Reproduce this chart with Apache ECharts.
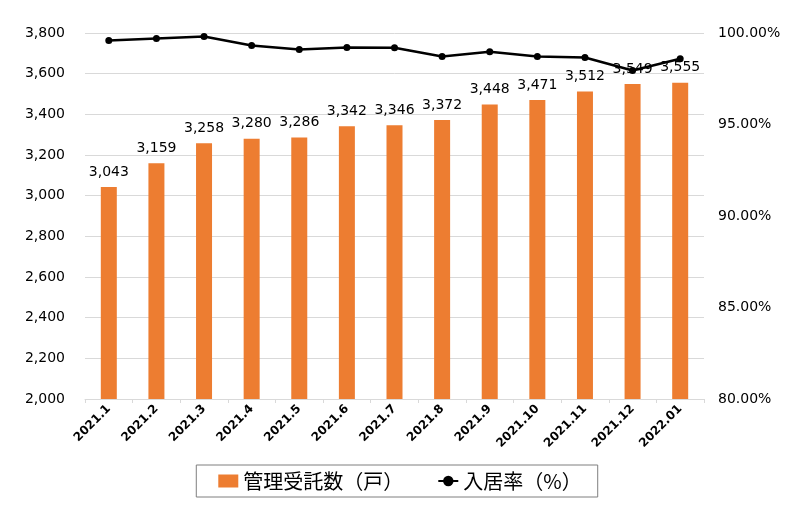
<!DOCTYPE html>
<html>
<head>
<meta charset="utf-8">
<script src="https://cdn.jsdelivr.net/npm/echarts@6/dist/echarts.min.js"></script>
<style>
  html, body { margin: 0; padding: 0; background: #fff; }
  #chart { width: 800px; height: 520px; }
</style>
</head>
<body>
<div id="chart"></div>
<script>
// 月
var months = ['2021.1', '2021.2', '2021.3', '2021.4', '2021.5', '2021.6', '2021.7',
  '2021.8', '2021.9', '2021.10', '2021.11', '2021.12', '2022.01'];
// 管理受託数（戸）
var units = [3043, 3159, 3258, 3280, 3286, 3342, 3346, 3372, 3448, 3471, 3512, 3549, 3555];
// 入居率（%）
var occupancy = [99.59, 99.70, 99.81, 99.32, 99.10, 99.21, 99.19, 98.72, 98.98, 98.72, 98.66, 97.95, 98.59];

function comma(v) {
  return String(v).replace(/\B(?=(\d{3})+(?!\d))/g, ',');
}

var numFont = 'DejaVu Sans';
var cjkFont = 'Noto Sans CJK JP';

var myChart = echarts.init(document.getElementById('chart'));
var option = {
  backgroundColor: '#fff',
  animation: false,
  grid: {
    left: 85,
    right: 96,
    top: 33,
    bottom: 121
  },
  legend: {
    left: 'center',
    top: 465,
    padding: [6, 16, 6, 22],
    borderColor: '#7f7f7f',
    borderWidth: 1,
    itemGap: 34,
    itemWidth: 20,
    itemHeight: 13,
    textStyle: {
      fontFamily: cjkFont,
      fontSize: 20,
      color: '#000'
    },
    data: [
      { name: '管理受託数（戸）', icon: 'rect', itemStyle: { color: '#ed7d31' } },
      { name: '入居率（%）' }
    ]
  },
  xAxis: {
    type: 'category',
    data: months,
    axisLine: { lineStyle: { color: '#d9d9d9' } },
    axisTick: { show: true, length: 4, lineStyle: { color: '#d9d9d9' } },
    axisLabel: {
      interval: 0,
      rotate: 45,
      fontFamily: numFont,
      fontWeight: 'bold',
      fontSize: 12,
      color: '#000',
      margin: 8
    }
  },
  yAxis: [{
    type: 'value',
    min: 2000,
    max: 3800,
    interval: 200,
    axisLine: { show: false },
    axisTick: { show: false },
    splitLine: { lineStyle: { color: '#d9d9d9' } },
    axisLabel: {
      margin: 20,
      fontFamily: numFont,
      fontSize: 14,
      color: '#000',
      formatter: function (v) { return comma(v); }
    }
  }, {
    type: 'value',
    min: 80,
    max: 100,
    interval: 5,
    axisLine: { show: false },
    axisTick: { show: false },
    splitLine: { show: false },
    axisLabel: {
      margin: 14,
      fontFamily: numFont,
      fontSize: 14,
      color: '#000',
      formatter: function (v) { return v.toFixed(2) + '%'; }
    }
  }],
  series: [{
    name: '管理受託数（戸）',
    type: 'bar',
    data: units,
    barWidth: 16,
    itemStyle: { color: '#ed7d31' },
    label: {
      show: true,
      position: 'top',
      distance: 8,
      fontFamily: numFont,
      fontSize: 14,
      color: '#000',
      formatter: function (p) { return comma(p.value); }
    }
  }, {
    name: '入居率（%）',
    type: 'line',
    yAxisIndex: 1,
    z: 5,
    data: occupancy,
    symbol: 'circle',
    symbolSize: 7,
    lineStyle: { color: '#000', width: 2.5 },
    itemStyle: { color: '#000' }
  }]
};
myChart.setOption(option);
</script>
</body>
</html>
